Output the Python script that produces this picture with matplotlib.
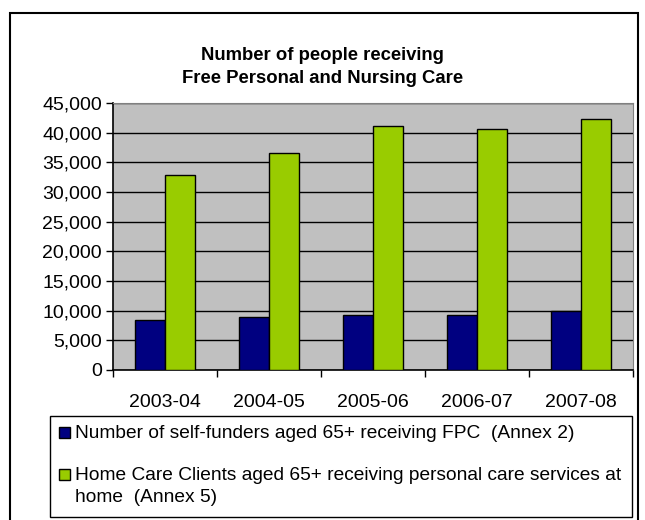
import numpy as np
import matplotlib.pyplot as plt
from matplotlib.patches import Rectangle
from matplotlib.ticker import FuncFormatter, FixedLocator

plt.rcParams['font.family'] = ['Liberation Sans', 'DejaVu Sans']

# --- Data ---
years = ["2003-04", "2004-05", "2005-06", "2006-07", "2007-08"]
self_funders = [8450, 9000, 9300, 9300, 9900]
home_care = [32900, 36500, 41100, 40700, 42300]
series_labels = [
    "Number of self-funders aged 65+ receiving FPC  (Annex 2)",
    "Home Care Clients aged 65+ receiving personal care services at\nhome  (Annex 5)",
]
navy = "#000080"
green = "#99CC00"

W, H = 645, 520
fig = plt.figure(figsize=(W / 100, H / 100), dpi=100)
ax = fig.add_axes([113 / W, 1 - 370 / H, 520 / W, 267 / H])
ax.set_facecolor("#C0C0C0")

x = np.arange(len(years))
w = 0.285
ax.bar(x - w / 2, self_funders, w, color=navy, edgecolor="black", linewidth=1.0, zorder=3)
ax.bar(x + w / 2, home_care, w, color=green, edgecolor="black", linewidth=1.0, zorder=3)

ax.set_xlim(-0.5, len(years) - 0.5)
ax.set_ylim(0, 45000)
ax.set_yticks(np.arange(0, 45001, 5000))
ax.yaxis.set_major_formatter(FuncFormatter(lambda v, p: f"{int(v):,}"))
ax.yaxis.grid(True, color="black", linewidth=1.0, zorder=1)
ax.set_axisbelow(True)

# category boundaries as ticks, labels centred
ax.xaxis.set_major_locator(FixedLocator(np.arange(-0.5, len(years), 1.0)))
ax.xaxis.set_major_formatter(FuncFormatter(lambda v, p: ""))
ax.set_xticks(x, minor=True)
ax.set_xticklabels(years, minor=True)
ax.tick_params(axis="x", which="minor", length=0, pad=17, labelsize=14)
ax.tick_params(axis="x", which="major", length=5, width=1, direction="out")
ax.tick_params(axis="y", length=5, width=1, direction="out", labelsize=14, pad=3)

for s in ["top", "right"]:
    ax.spines[s].set_color("#808080")
for s in ["left", "bottom"]:
    ax.spines[s].set_color("black")
    ax.spines[s].set_linewidth(1.2)

fig.text(0.5, 1 - 67 / H, "Number of people receiving\nFree Personal and Nursing Care",
         ha="center", va="center", fontsize=13.3, fontweight="bold", linespacing=1.45)

# legend box (drawn by hand so the swatch sits on the first text line, as in Excel)
fig.patches.append(Rectangle((50 / W, 1 - 517 / H), 582 / W, 101 / H,
                             transform=fig.transFigure, fill=False, edgecolor="black",
                             linewidth=1.0))
legend_rows = [(432, navy), (474, green)]
for (yc, col), label in zip(legend_rows, series_labels):
    fig.patches.append(Rectangle((59 / W, 1 - (yc + 6) / H), 11 / W, 11 / H,
                                 transform=fig.transFigure, facecolor=col,
                                 edgecolor="black", linewidth=1.0))
    fig.text(75 / W, 1 - (yc - 7) / H, label, ha="left", va="top",
             fontsize=13.8, linespacing=1.35)

# outer chart frame
fig.patches.append(Rectangle((10 / W, -0.02), 628 / W, 1 - 13 / H + 0.02,
                             transform=fig.transFigure, fill=False, edgecolor="black",
                             linewidth=1.5))

fig.savefig("out.png", dpi=100)
